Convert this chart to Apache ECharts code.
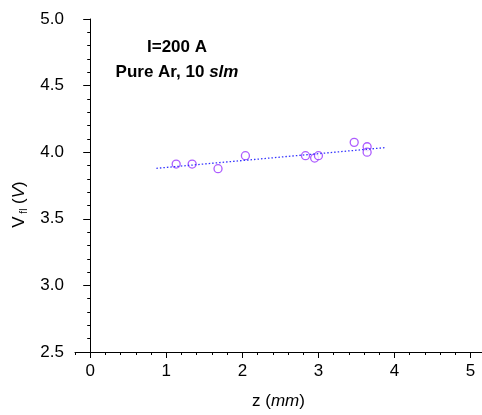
<!DOCTYPE html>
<html><head><meta charset="utf-8">
<script src="https://cdn.jsdelivr.net/npm/echarts@6/dist/echarts.min.js"></script>
<style>html,body{margin:0;padding:0;background:#fff}#c{width:482px;height:415px}</style>
</head><body><div id="c"></div>
<script>
var zValues = [1.13, 1.34, 1.68, 2.04, 2.83, 2.95, 3.00, 3.47, 3.64, 3.64];
var vflValues = [3.911, 3.911, 3.876, 3.974, 3.974, 3.956, 3.974, 4.074, 4.041, 4.000];
var fitZ = [0.87, 3.87];
var fitV = [3.879, 4.034];
var xMajorTicks = [0, 1, 2, 3, 4, 5];
var xMinorTicks = [];
for (var i = -1; i <= 25; i++) xMinorTicks.push(Math.round(i * 20) / 100);
var font = 'Liberation Sans, Arial, sans-serif';

var chart = echarts.init(document.getElementById('c'));
chart.setOption({
  animation: false,
  backgroundColor: '#fff',
  title: {
    text: '{b|I=200 A}\n{b|Pure Ar, 10 }{bi|slm}',
    left: 172, top: 30, textAlign: 'center',
    textStyle: {
      rich: {
        b: {fontFamily: font, fontWeight: 'bold', fontSize: 17, color: '#000', lineHeight: 25},
        bi: {fontFamily: font, fontWeight: 'bold', fontStyle: 'italic', fontSize: 17, color: '#000', lineHeight: 25}
      }
    }
  },
  grid: {left: 75, right: 0, top: 19, bottom: 63, containLabel: false, outerBoundsMode: 'none'},
  xAxis: [{
    type: 'value', min: -0.2, max: 5.15,
    axisLine: {lineStyle: {color: '#000', width: 1}},
    axisTick: {show: true, length: 6, customValues: xMajorTicks, lineStyle: {color: '#000'}},
    axisLabel: {customValues: xMajorTicks, color: '#000', fontFamily: font, fontSize: 17, margin: 11},
    splitLine: {show: false},
    name: '{n|z (}{i|mm}{n|)}', nameLocation: 'middle', nameGap: 41,
    nameTextStyle: {rich: {
      n: {fontFamily: font, fontSize: 17, color: '#000'},
      i: {fontFamily: font, fontSize: 17, fontStyle: 'italic', color: '#000'}
    }}
  }, {
    type: 'value', min: -0.2, max: 5.15, position: 'bottom',
    axisLine: {show: false},
    axisTick: {show: true, length: 3, customValues: xMinorTicks, lineStyle: {color: '#000'}},
    axisLabel: {show: false},
    splitLine: {show: false}
  }],
  yAxis: {
    type: 'value', min: 2.5, max: 5.0, interval: 0.5,
    axisLine: {show: true, lineStyle: {color: '#000', width: 1}},
    axisTick: {show: true, length: 7, lineStyle: {color: '#000'}},
    minorTick: {show: true, splitNumber: 5, length: 3, lineStyle: {color: '#000'}},
    axisLabel: {color: '#000', fontFamily: font, fontSize: 17, margin: 11,
      formatter: function (v) { return v.toFixed(1); }},
    splitLine: {show: false},
    name: '{n|V}{s| fl}{n| (}{i|V}{n|)}', nameLocation: 'middle', nameGap: 34,
    nameTextStyle: {padding: [0, 38, 0, 0], rich: {
      n: {fontFamily: font, fontSize: 17, color: '#000', lineHeight: 20},
      i: {fontFamily: font, fontSize: 17, fontStyle: 'italic', color: '#000', lineHeight: 20},
      s: {fontFamily: font, fontSize: 10, color: '#000', verticalAlign: 'bottom', lineHeight: 20}
    }}
  },
  series: [{
    type: 'line', xAxisIndex: 0,
    data: fitZ.map(function (z, k) { return [z, fitV[k]]; }),
    symbol: 'none', lineStyle: {color: '#3333ff', width: 1.3, type: [1.5, 2]}
  }, {
    type: 'scatter', xAxisIndex: 0,
    data: zValues.map(function (z, k) { return [z, vflValues[k]]; }),
    symbol: 'circle', symbolSize: 8,
    itemStyle: {color: '#fff', borderColor: '#9933ff', borderWidth: 1.3}
  }]
});
</script></body></html>
